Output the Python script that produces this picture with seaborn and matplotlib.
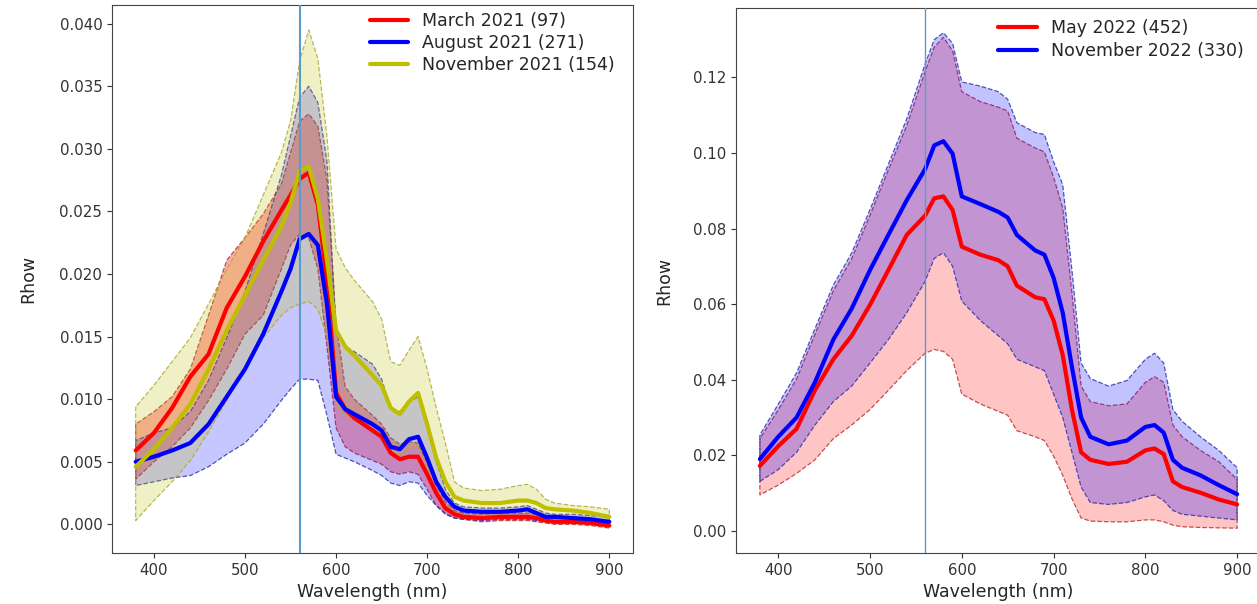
import matplotlib
matplotlib.use("Agg")
import matplotlib.pyplot as plt
from matplotlib.colors import to_rgba
import seaborn as sns

sns.set_style("ticks")
plt.rcParams['font.family'] = ['DejaVu Sans']

# ---------------- Data: 2021 panel ----------------
wl_2021 = [380, 400, 420, 440, 460, 480, 500, 520, 540, 550, 560, 570, 580, 590,
           600, 610, 620, 640, 650, 660, 670, 680, 690, 700, 710, 720, 730, 740,
           760, 780, 800, 810, 820, 830, 840, 860, 880, 900]

mar21_mean = [.0059, .0073, .0093, .0118, .0136, .0173, .0198, .0226, .0251, .0263, .0276, .0281, .0255, .0195,
              .0105, .0092, .0085, .0075, .0070, .0057, .0052, .0054, .0054, .0040, .0025, .0013, .0008, .0006,
              .0005, .0006, .0006, .0006, .0005, .0003, .0002, .0002, .0001, -.0001]
mar21_hi = [.0080, .0090, .0102, .0124, .0167, .0211, .0229, .0248, .0272, .0297, .0322, .0328, .0318, .0275,
            .0160, .0110, .0100, .0087, .0080, .0069, .0064, .0066, .0065, .0049, .0031, .0018, .0011, .0009,
            .0008, .0009, .0009, .0009, .0008, .0006, .0005, .0005, .0004, .0003]
mar21_lo = [.0036, .0050, .0062, .0077, .0099, .0124, .0152, .0167, .0204, .0223, .0232, .0229, .0204, .0142,
            .0077, .0062, .0057, .0051, .0048, .0042, .0040, .0042, .0040, .0028, .0015, .0009, .0005, .0004,
            .0002, .0003, .0003, .0003, .0002, .0001, .0000, .0000, -.0001, -.0003]

aug21_mean = [.0050, .0054, .0059, .0065, .0080, .0102, .0124, .0152, .0186, .0204, .0228, .0232, .0223, .0176,
              .0102, .0092, .0088, .0080, .0075, .0062, .0060, .0068, .0070, .0053, .0034, .0022, .0014, .0011,
              .0010, .0010, .0011, .0012, .0009, .0006, .0006, .0005, .0004, .0002]
aug21_hi = [.0067, .0073, .0077, .0090, .0115, .0149, .0186, .0232, .0279, .0310, .0341, .0350, .0337, .0290,
            .0155, .0142, .0138, .0128, .0116, .0093, .0090, .0098, .0102, .0077, .0050, .0028, .0017, .0014,
            .0013, .0013, .0014, .0015, .0012, .0009, .0008, .0008, .0007, .0006]
aug21_lo = [.0031, .0034, .0037, .0039, .0046, .0056, .0065, .0080, .0099, .0108, .0116, .0116, .0115, .0087,
            .0056, .0053, .0050, .0043, .0039, .0033, .0031, .0034, .0033, .0023, .0015, .0008, .0005, .0004,
            .0003, .0004, .0004, .0004, .0003, .0002, .0002, .0001, .0001, -.0001]

nov21_mean = [.0046, .0060, .0077, .0096, .0124, .0155, .0183, .0211, .0238, .0257, .0282, .0286, .0260, .0211,
              .0155, .0142, .0135, .0119, .0111, .0093, .0088, .0098, .0105, .0080, .0053, .0034, .0022, .0019,
              .0017, .0017, .0019, .0019, .0017, .0013, .0012, .0011, .0009, .0006]
nov21_hi = [.0094, .0111, .0130, .0149, .0176, .0204, .0229, .0263, .0297, .0322, .0370, .0395, .0372, .0310,
            .0220, .0205, .0195, .0178, .0164, .0130, .0127, .0139, .0150, .0124, .0093, .0065, .0034, .0029,
            .0027, .0028, .0031, .0032, .0028, .0020, .0017, .0015, .0014, .0012]
nov21_lo = [.0003, .0019, .0034, .0051, .0074, .0099, .0124, .0149, .0167, .0173, .0176, .0178, .0172, .0150,
            .0095, .0088, .0083, .0076, .0070, .0058, .0055, .0060, .0062, .0045, .0025, .0012, .0008, .0007,
            .0006, .0006, .0006, .0006, .0005, .0004, .0003, .0003, .0002, .0001]

labels_2021 = ["March 2021 (97)", "August 2021 (271)", "November 2021 (154)"]

# ---------------- Data: 2022 panel ----------------
wl_2022 = [380, 400, 420, 440, 460, 480, 500, 520, 540, 560, 570, 580, 590, 600,
           620, 640, 650, 660, 680, 690, 700, 710, 720, 730, 740, 760, 780, 800,
           810, 820, 830, 840, 860, 880, 900]

may22_mean = [.0172, .0224, .0270, .0372, .0454, .0516, .0598, .0690, .0783, .0834, .0880, .0885, .0849, .0752,
              .0731, .0716, .0700, .0649, .0618, .0613, .0557, .0465, .0321, .0208, .0188, .0177, .0183, .0213,
              .0218, .0203, .0131, .0116, .0101, .0083, .0070]
may22_hi = [.0244, .0320, .0402, .0520, .0635, .0720, .0835, .0955, .1072, .1215, .1280, .1306, .1270, .1162,
            .1136, .1121, .1111, .1039, .1013, .1003, .0936, .0854, .0629, .0383, .0342, .0331, .0336, .0393,
            .0408, .0393, .0280, .0249, .0213, .0183, .0136]
may22_lo = [.0095, .0121, .0152, .0188, .0244, .0280, .0321, .0372, .0424, .0470, .0480, .0475, .0454, .0362,
            .0336, .0316, .0306, .0265, .0249, .0239, .0198, .0147, .0085, .0034, .0026, .0024, .0024, .0029,
            .0029, .0024, .0015, .0011, .0009, .0008, .0007]

nov22_mean = [.0190, .0249, .0300, .0393, .0506, .0588, .0690, .0783, .0875, .0957, .1020, .1031, .0998, .0885,
              .0865, .0844, .0829, .0783, .0742, .0731, .0670, .0577, .0434, .0300, .0249, .0229, .0239, .0275,
              .0280, .0260, .0188, .0167, .0147, .0121, .0097]
nov22_hi = [.0254, .0335, .0418, .0535, .0650, .0735, .0850, .0970, .1090, .1235, .1300, .1318, .1290, .1188,
            .1177, .1162, .1142, .1080, .1054, .1049, .0977, .0916, .0690, .0444, .0403, .0383, .0398, .0454,
            .0470, .0444, .0321, .0290, .0249, .0213, .0167]
nov22_lo = [.0131, .0162, .0208, .0280, .0342, .0383, .0444, .0506, .0577, .0660, .0721, .0736, .0700, .0608,
            .0557, .0516, .0495, .0454, .0434, .0424, .0362, .0300, .0208, .0116, .0075, .0070, .0075, .0090,
            .0095, .0080, .0054, .0044, .0039, .0034, .0029]

labels_2022 = ["May 2022 (452)", "November 2022 (330)"]

marker_wl = 560

# ---------------- Figure ----------------
W, H = 1257, 604
fig = plt.figure(figsize=(W / 100, H / 100), dpi=100)
ax1 = fig.add_axes([112 / W, 51 / H, 521 / W, 548 / H])
ax2 = fig.add_axes([736 / W, 51 / H, 525 / W, 545 / H])

EDGE = {'red': '#b52a2a', 'blue': '#2b2ba8', 'y': '#a8a82a'}


def draw_panel(ax, wl, series, alphas, legend_anchor, labelspacing, ylabelpad, vline_w):
    for (label, color, mean, lo, hi), a in zip(series, alphas):
        ax.fill_between(wl, lo, hi, facecolor=to_rgba(color, a),
                        edgecolor=to_rgba(EDGE[color], 0.8), linestyle='--', linewidth=0.9)
        sns.lineplot(x=wl, y=mean, color=color, linewidth=3, label=label, ax=ax)
    ax.axvline(marker_wl, color='#5b9bc8', linewidth=vline_w, zorder=3)
    ax.legend(loc='upper right', bbox_to_anchor=legend_anchor, frameon=False,
              fontsize=12.5, handlelength=2.2, labelspacing=labelspacing)
    ax.set_xlabel("Wavelength (nm)", fontsize=12.5)
    ax.set_ylabel("Rhow", fontsize=12.5, labelpad=ylabelpad)
    ax.tick_params(labelsize=10.8, colors='#333333')
    for s in ax.spines.values():
        s.set_color('#444444')


draw_panel(ax1, wl_2021, [
    (labels_2021[0], 'red', mar21_mean, mar21_lo, mar21_hi),
    (labels_2021[1], 'blue', aug21_mean, aug21_lo, aug21_hi),
    (labels_2021[2], 'y', nov21_mean, nov21_lo, nov21_hi),
], [0.33, 0.22, 0.22], (0.994, 1.016), 0.24, 16, 1.5)

draw_panel(ax2, wl_2022, [
    (labels_2022[0], 'red', may22_mean, may22_lo, may22_hi),
    (labels_2022[1], 'blue', nov22_mean, nov22_lo, nov22_hi),
], [0.23, 0.24], (0.996, 1.009), 0.3, 14, 1.0)

fig.savefig("out.png", dpi=100)
